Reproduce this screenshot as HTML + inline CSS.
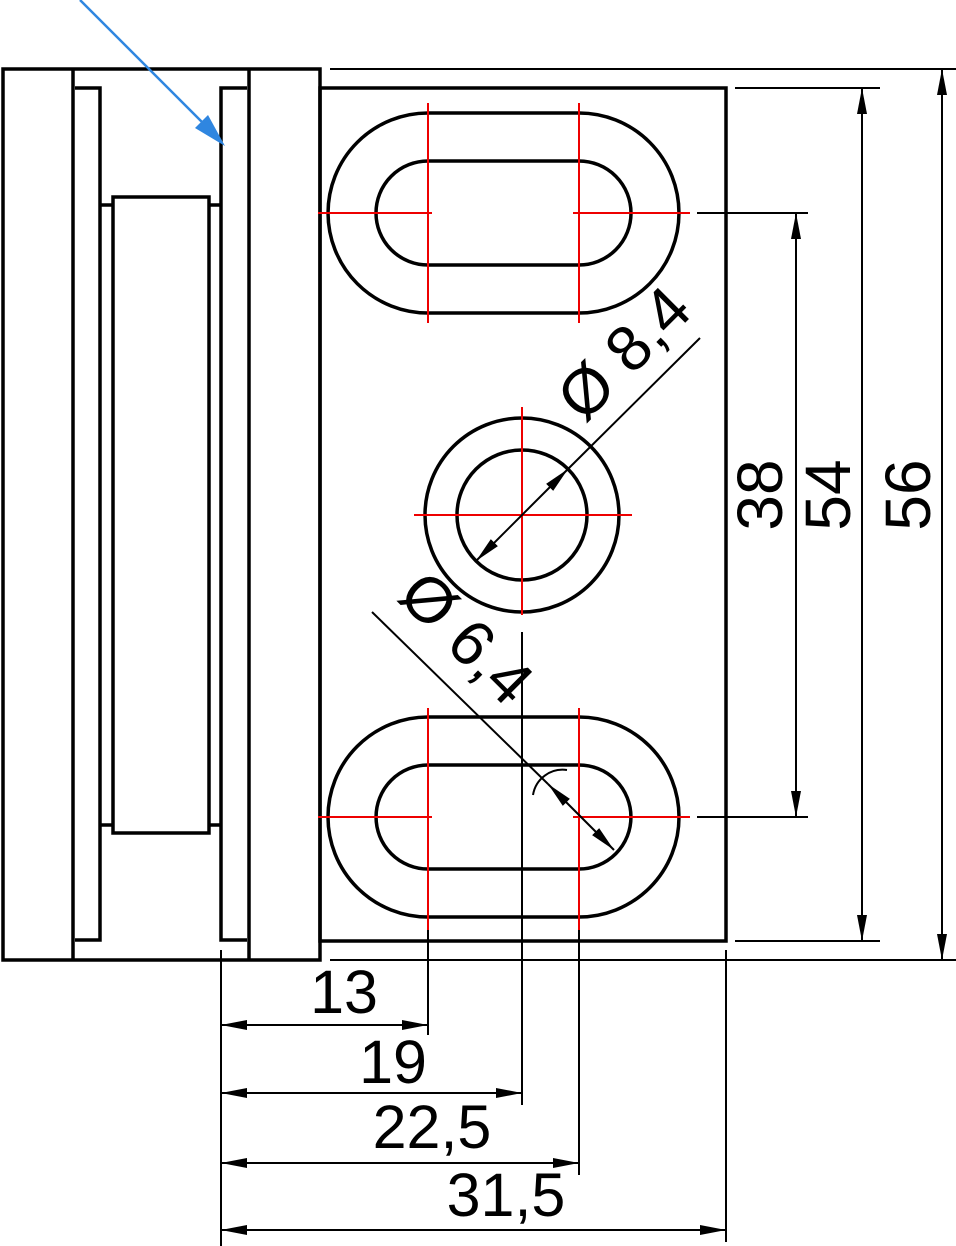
<!DOCTYPE html>
<html><head><meta charset="utf-8"><style>
html,body{margin:0;padding:0;background:#fff;}
svg{display:block;}
text{font-family:"Liberation Sans",sans-serif;fill:#000;}
</style></head><body>
<svg width="956" height="1246" viewBox="0 0 956 1246" xmlns="http://www.w3.org/2000/svg">
<defs>
<marker id="a" viewBox="0 0 26 10" refX="26" refY="5" markerWidth="26" markerHeight="10" markerUnits="userSpaceOnUse" orient="auto-start-reverse"><path d="M0,0L26,5L0,10z" fill="#000"/></marker>
</defs>
<g fill="none" stroke="#000" stroke-width="3.5">
<rect x="3" y="69" width="317" height="891"/>
<line x1="73" y1="69" x2="73" y2="960"/>
<line x1="249" y1="69" x2="249" y2="960"/>
<polyline points="75,88 100,88 100,940 75,940"/>
<polyline points="247,88 221,88 221,940 247,940"/>
<rect x="113" y="197" width="96" height="636"/>
<line x1="100" y1="205" x2="113" y2="205"/><line x1="209" y1="205" x2="221" y2="205"/>
<line x1="100" y1="825" x2="113" y2="825"/><line x1="209" y1="825" x2="221" y2="825"/>
<rect x="320" y="88" width="406" height="853"/>
<path d="M428,113 H579 A100,100 0 0 1 579,313 H428 A100,100 0 0 1 428,113Z"/>
<path d="M428,161 H579 A52,52 0 0 1 579,265 H428 A52,52 0 0 1 428,161Z"/>
<path d="M428,717 H579 A100,100 0 0 1 579,917 H428 A100,100 0 0 1 428,717Z"/>
<path d="M428,765 H579 A52,52 0 0 1 579,869 H428 A52,52 0 0 1 428,765Z"/>
<circle cx="522" cy="515" r="97"/>
<circle cx="522" cy="515" r="65"/>
</g>
<g stroke="#e00" stroke-width="2">
<line x1="318" y1="213" x2="432" y2="213"/><line x1="573" y1="213" x2="690" y2="213"/>
<line x1="428" y1="103" x2="428" y2="323"/><line x1="579" y1="103" x2="579" y2="323"/>
<line x1="318" y1="817" x2="432" y2="817"/><line x1="573" y1="817" x2="690" y2="817"/>
<line x1="428" y1="708" x2="428" y2="930"/><line x1="579" y1="708" x2="579" y2="930"/>
<line x1="414" y1="515" x2="632" y2="515"/><line x1="522" y1="407" x2="522" y2="615"/>
</g>
<g stroke="#000" stroke-width="2">
<line x1="330" y1="69" x2="956" y2="69"/><line x1="330" y1="960" x2="956" y2="960"/>
<line x1="735" y1="88" x2="880" y2="88"/><line x1="735" y1="941" x2="880" y2="941"/>
<line x1="697" y1="213" x2="808" y2="213"/><line x1="697" y1="817" x2="808" y2="817"/>
<line x1="796" y1="213" x2="796" y2="817" marker-start="url(#a)" marker-end="url(#a)"/>
<line x1="862" y1="88" x2="862" y2="941" marker-start="url(#a)" marker-end="url(#a)"/>
<line x1="942" y1="69" x2="942" y2="960" marker-start="url(#a)" marker-end="url(#a)"/>
<line x1="221" y1="950" x2="221" y2="1246"/>
<line x1="428" y1="930" x2="428" y2="1035"/>
<line x1="522" y1="632" x2="522" y2="1105"/>
<line x1="579" y1="930" x2="579" y2="1175"/>
<line x1="726" y1="950" x2="726" y2="1242"/>
<line x1="221" y1="1025" x2="428" y2="1025" marker-start="url(#a)" marker-end="url(#a)"/>
<line x1="221" y1="1093" x2="522" y2="1093" marker-start="url(#a)" marker-end="url(#a)"/>
<line x1="221" y1="1163" x2="579" y2="1163" marker-start="url(#a)" marker-end="url(#a)"/>
<line x1="221" y1="1230" x2="726" y2="1230" marker-start="url(#a)" marker-end="url(#a)"/>
<line x1="476" y1="561" x2="568" y2="469" marker-start="url(#a)" marker-end="url(#a)"/>
<line x1="568" y1="469" x2="700" y2="338"/>
<line x1="372" y1="612" x2="548" y2="784"/>
<line x1="548" y1="784" x2="614" y2="850" marker-start="url(#a)" marker-end="url(#a)"/>
<path d="M533,795 A30,30 0 0 1 567,770" fill="none"/>
</g>
<g font-size="61">
<text x="344" y="1013" text-anchor="middle">13</text>
<text x="393" y="1083" text-anchor="middle">19</text>
<text x="432" y="1148" text-anchor="middle">22,5</text>
<text x="506" y="1216" text-anchor="middle">31,5</text>
<text transform="translate(782,495) rotate(-90)" text-anchor="middle" font-size="64">38</text>
<text transform="translate(850,495) rotate(-90)" text-anchor="middle" font-size="64">54</text>
<text transform="translate(930,495) rotate(-90)" text-anchor="middle" font-size="64">56</text>
<text transform="translate(584,424) rotate(-45)" font-size="64">Ø 8,4</text>
<text transform="translate(396,598) rotate(45)" font-size="64">Ø 6,4</text>
</g>
<line x1="80" y1="0" x2="210" y2="130" stroke="#2f86e0" stroke-width="2.5"/>
<path d="M225,146 L195,128 L208,115 Z" fill="#2f86e0"/>
</svg>
</body></html>
